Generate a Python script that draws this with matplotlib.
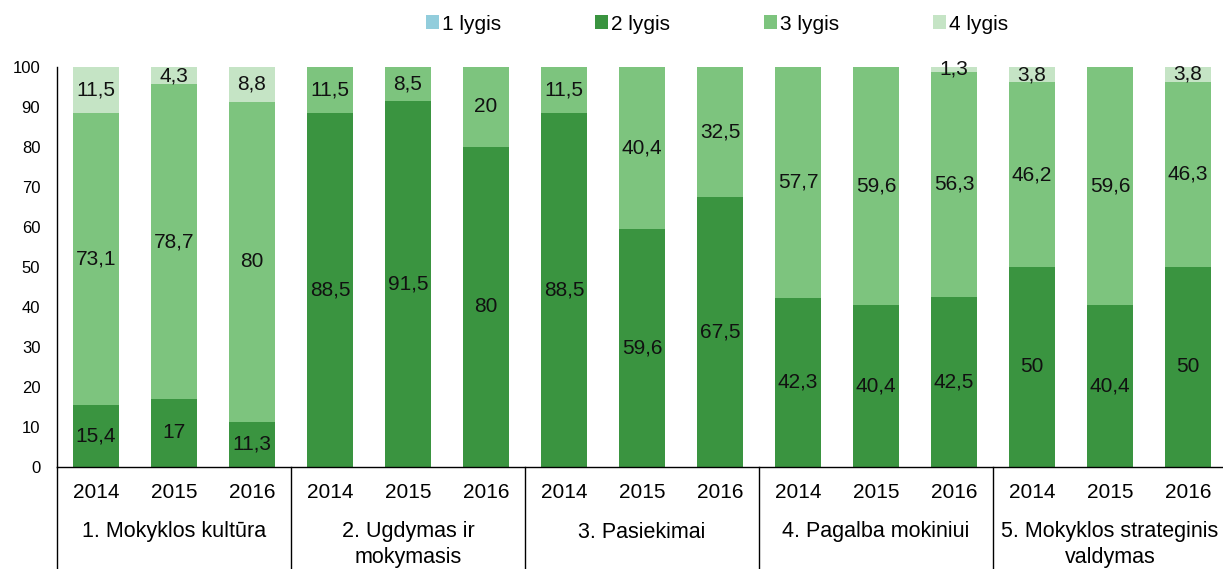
import matplotlib
matplotlib.use("Agg")
import matplotlib.pyplot as plt
from matplotlib.patches import Patch
import numpy as np

plt.rcParams['font.family'] = ['Liberation Sans', 'DejaVu Sans']

groups = ["1. Mokyklos kultūra", "2. Ugdymas ir\nmokymasis", "3. Pasiekimai",
          "4. Pagalba mokiniui", "5. Mokyklos strateginis\nvaldymas"]
years = ["2014", "2015", "2016"]
series_names = ["1 lygis", "2 lygis", "3 lygis", "4 lygis"]
lygis1 = [0, 0, 0, 0, 0, 0, 0, 0, 0, 0, 0, 0, 0, 0, 0]
lygis2 = [15.4, 17, 11.3, 88.5, 91.5, 80, 88.5, 59.6, 67.5, 42.3, 40.4, 42.5, 50, 40.4, 50]
lygis3 = [73.1, 78.7, 80, 11.5, 8.5, 20, 11.5, 40.4, 32.5, 57.7, 59.6, 56.3, 46.2, 59.6, 46.3]
lygis4 = [11.5, 4.3, 8.8, 0, 0, 0, 0, 0, 0, 0, 0, 1.3, 3.8, 0, 3.8]
colors = ["#92CDDC", "#3A9440", "#7DC47E", "#C5E4C5"]

W, H = 1223, 569
fig = plt.figure(figsize=(W / 100, H / 100), dpi=100)
ax_left, ax_right = 57 / W, 1227 / W
ax_bottom, ax_top = 1 - 467 / H, 1 - 67 / H
ax = fig.add_axes([ax_left, ax_bottom, ax_right - ax_left, ax_top - ax_bottom])

n = len(lygis2)
x = np.arange(n)
bottom = np.zeros(n)
for vals, col in zip([lygis1, lygis2, lygis3, lygis4], colors):
    vals = np.array(vals, dtype=float)
    ax.bar(x, vals, width=0.58, bottom=bottom, color=col, linewidth=0)
    for xi, v, b in zip(x, vals, bottom):
        if v > 0:
            ax.text(xi, b + v / 2, f"{v:g}".replace(".", ","), ha="center", va="center",
                    fontsize=15, color="#111111")
    bottom += vals

ax.set_xlim(-0.5, n - 0.5)
ax.set_ylim(0, 100)
ax.set_yticks(range(0, 101, 10))
ax.tick_params(axis="y", length=0, pad=12, labelsize=12)
ax.set_xticks([])
for s in ["top", "right"]:
    ax.spines[s].set_visible(False)
ax.spines["left"].set_color("#000000")
ax.spines["bottom"].set_color("#000000")
ax.spines["left"].set_linewidth(1.0)
ax.spines["bottom"].set_linewidth(1.0)

trans = ax.get_xaxis_transform()
ax_h_px = 400.0
def yfrac(py):
    return -(py - 467) / ax_h_px

# year labels
for i in range(n):
    ax.text(x[i], yfrac(492), years[i % 3], transform=trans, ha="center", va="center",
            fontsize=15, clip_on=False)
# group labels
for g, name in enumerate(groups):
    for k, ln in enumerate(name.split("\n")):
        ax.text(3 * g + 1, yfrac(532 + 25 * k), ln, transform=trans, ha="center", va="center",
                fontsize=15.5, clip_on=False)

# separators
for sx in [-0.5, 2.5, 5.5, 8.5, 11.5]:
    ax.plot([sx, sx], [0, yfrac(575)], transform=trans, color="#000000", lw=1.0, clip_on=False)

handles = [Patch(facecolor=c, edgecolor="none") for c in colors]
fig.legend(handles, series_names, loc="center", bbox_to_anchor=(717 / W, 1 - 24 / H),
           ncol=4, frameon=False, fontsize=15, handlelength=0.62, handleheight=0.62,
           handletextpad=0.15, columnspacing=4.5)

fig.savefig("out.png", dpi=100)
